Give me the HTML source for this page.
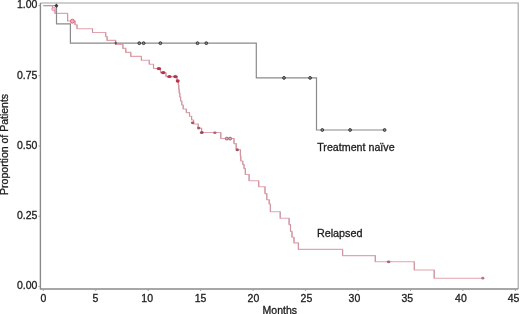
<!DOCTYPE html>
<html><head><meta charset="utf-8"><title>Kaplan-Meier</title>
<style>
html,body{margin:0;padding:0;background:#fff;}
body{width:520px;height:314px;overflow:hidden;}
svg{display:block;}
text{font-family:"Liberation Sans",Arial,sans-serif;font-size:10.5px;fill:#1c1c1c;stroke:#1c1c1c;stroke-width:0.3px;}
</style></head><body>
<svg width="520" height="314" viewBox="0 0 520 314">
<path d="M40.4,3.0H518.2V289.0" fill="none" stroke="#a0a0a0" stroke-width="1.1"/>
<path d="M40.4,3.0V289.0H518.2" fill="none" stroke="#8a8a8a" stroke-width="1.4"/>
<path d="M38.4,5.6H40.4M38.4,75.8H40.4M38.4,146.0H40.4M38.4,216.2H40.4M38.4,286.4H40.4M43.3,289.0V291.0M95.8,289.0V291.0M148.2,289.0V291.0M200.6,289.0V291.0M253.1,289.0V291.0M305.6,289.0V291.0M358.0,289.0V291.0M410.5,289.0V291.0M462.9,289.0V291.0M515.4,289.0V291.0" stroke="#a0a0a0" stroke-width="1" fill="none"/>
<text x="37.4" y="8.4" text-anchor="end">1.00</text>
<text x="37.4" y="78.6" text-anchor="end">0.75</text>
<text x="37.4" y="148.8" text-anchor="end">0.50</text>
<text x="37.4" y="219.0" text-anchor="end">0.25</text>
<text x="37.4" y="289.2" text-anchor="end">0.00</text>
<text x="43.3" y="301.5" text-anchor="middle">0</text>
<text x="95.5" y="301.5" text-anchor="middle">5</text>
<text x="147.2" y="301.5" text-anchor="middle">10</text>
<text x="200.6" y="301.5" text-anchor="middle">15</text>
<text x="253.4" y="301.5" text-anchor="middle">20</text>
<text x="306.4" y="301.5" text-anchor="middle">25</text>
<text x="354.4" y="301.5" text-anchor="middle">30</text>
<text x="407.3" y="301.5" text-anchor="middle">35</text>
<text x="460.9" y="301.5" text-anchor="middle">40</text>
<text x="513.6" y="301.5" text-anchor="middle">45</text>
<text x="279.8" y="313.7" text-anchor="middle">Months</text>
<text transform="translate(8.2,144.4) rotate(-90)" text-anchor="middle">Proportion of Patients</text>
<path d="M43.3,5.6H52.5V9.7H55.0V13.4H67.6V21.0H75.0V24.8H77.0V28.8H92.5V32.5H105.7V36.5H107.1V40.4H115.7V44.4H122.9V48.4H125.8V52.4H130.8V56.4H141.4V60.3H149.3V64.3H153.5V68.5H160.5V72.7H166.0V76.6H177.0V81.0H178.4V85.0H178.8V89.0H179.2V93.0H179.8V97.0H180.6V101.0H181.8V105.0H183.2V109.0H186.3V112.6H189.5V116.3H191.6V120.0H193.6V124.0H198.2V128.2H201.6V132.5H220.8V138.5H234.0V143.6H236.2V149.8H240.4V156.0H240.8V161.0H242.8V164.5H244.0V168.5H245.3V174.5H249.1V180.8H258.7V186.8H265.0V193.6H266.8V199.8H269.2V204.0H270.4V211.8H280.2V218.3H289.1V224.6H290.5V231.4H292.0V237.2H294.0V242.9H298.4V249.4H342.6V255.6H375.3V261.8H414.3V270.0H434.2V278.2H482.8" stroke="#e2a4ae" stroke-width="1.1" fill="none"/>
<path d="M52.5,5.6V9.7M55.0,9.7V13.4M67.6,13.4V21.0M75.0,21.0V24.8M77.0,24.8V28.8M92.5,28.8V32.5M105.7,32.5V36.5M107.1,36.5V40.4M115.7,40.4V44.4M122.9,44.4V48.4M125.8,48.4V52.4M130.8,52.4V56.4M141.4,56.4V60.3M149.3,60.3V64.3M153.5,64.3V68.5M160.5,68.5V72.7M166.0,72.7V76.6M177.0,76.6V81.0M178.4,81.0V85.0M178.8,85.0V89.0M179.2,89.0V93.0M179.8,93.0V97.0M180.6,97.0V101.0M181.8,101.0V105.0M183.2,105.0V109.0M186.3,109.0V112.6M189.5,112.6V116.3M191.6,116.3V120.0M193.6,120.0V124.0M198.2,124.0V128.2M201.6,128.2V132.5M220.8,132.5V138.5M234.0,138.5V143.6M236.2,143.6V149.8M240.4,149.8V156.0M240.8,156.0V161.0M242.8,161.0V164.5M244.0,164.5V168.5M245.3,168.5V174.5M249.1,174.5V180.8M258.7,180.8V186.8M265.0,186.8V193.6M266.8,193.6V199.8M269.2,199.8V204.0M270.4,204.0V211.8M280.2,211.8V218.3M289.1,218.3V224.6M290.5,224.6V231.4M292.0,231.4V237.2M294.0,237.2V242.9M298.4,242.9V249.4M342.6,249.4V255.6M375.3,255.6V261.8M414.3,261.8V270.0M434.2,270.0V278.2" stroke="#cc96a0" stroke-width="1.1" fill="none"/>
<path d="M43.3,5.6H56.5" stroke="#a9a0a3" stroke-width="1.1" fill="none"/>
<path d="M56.5,5.6L56.5,23.9L70.4,23.9L70.4,43.2L256.3,43.2L256.3,77.9L316.5,77.9L316.5,130.0L384.6,130.0" stroke="#8a8a8a" stroke-width="1.2" fill="none"/>
<ellipse cx="53.6" cy="9.0" rx="1.8" ry="1.8" fill="#f2c4cc" stroke="#e592a2" stroke-width="0.9"/>
<ellipse cx="72.4" cy="21.2" rx="2.0" ry="2.0" fill="#f2b0bc" stroke="#de5a72" stroke-width="0.9"/>
<ellipse cx="158.9" cy="68.6" rx="2.3" ry="1.6" fill="#b8324c"/>
<ellipse cx="163.2" cy="72.6" rx="2.3" ry="1.6" fill="#b8324c"/>
<ellipse cx="169.4" cy="76.5" rx="2.3" ry="1.6" fill="#b8324c"/>
<ellipse cx="175.4" cy="76.6" rx="2.3" ry="1.6" fill="#b8324c"/>
<ellipse cx="177.7" cy="81.0" rx="2.0" ry="1.8" fill="#b8324c"/>
<ellipse cx="192.6" cy="122.8" rx="1.7" ry="1.4" fill="#a45868"/>
<ellipse cx="198.7" cy="128.1" rx="1.7" ry="1.4" fill="#a45868"/>
<ellipse cx="201.8" cy="132.6" rx="1.9" ry="1.5" fill="#984a5c"/>
<ellipse cx="214.9" cy="132.7" rx="1.7" ry="1.3" fill="#a86474"/>
<ellipse cx="226.8" cy="138.6" rx="1.6" ry="1.4" fill="#d8a8b2" stroke="#a05a6a" stroke-width="0.9"/>
<ellipse cx="230.1" cy="138.6" rx="1.6" ry="1.4" fill="#d8a8b2" stroke="#a05a6a" stroke-width="0.9"/>
<ellipse cx="237.3" cy="149.8" rx="1.7" ry="1.5" fill="#a45868"/>
<ellipse cx="388.6" cy="261.8" rx="1.9" ry="1.4" fill="#a86a78"/>
<ellipse cx="482.8" cy="278.2" rx="1.6" ry="1.4" fill="#b07884"/>
<path d="M54.4,5.8L56.4,3.6L58.4,5.8L56.4,8.0Z" fill="#3a3a3a"/>
<circle cx="139.3" cy="43.2" r="1.4" fill="#888" stroke="#383838" stroke-width="1"/>
<circle cx="143.6" cy="43.2" r="1.4" fill="#888" stroke="#383838" stroke-width="1"/>
<circle cx="160.4" cy="43.2" r="1.4" fill="#888" stroke="#383838" stroke-width="1"/>
<circle cx="197.5" cy="43.2" r="1.4" fill="#888" stroke="#383838" stroke-width="1"/>
<circle cx="206.3" cy="43.2" r="1.4" fill="#888" stroke="#383838" stroke-width="1"/>
<circle cx="284.0" cy="77.9" r="1.4" fill="#888" stroke="#383838" stroke-width="1"/>
<circle cx="310.1" cy="77.9" r="1.4" fill="#888" stroke="#383838" stroke-width="1"/>
<circle cx="322.3" cy="130.0" r="1.4" fill="#888" stroke="#383838" stroke-width="1"/>
<circle cx="350.1" cy="130.0" r="1.4" fill="#888" stroke="#383838" stroke-width="1"/>
<circle cx="384.6" cy="130.0" r="1.4" fill="#888" stroke="#383838" stroke-width="1"/>
<ellipse cx="115.7" cy="43.0" rx="1.1" ry="1.5" fill="#555"/>
<text x="317.2" y="150.7" style="font-size:10.7px">Treatment naïve</text>
<text x="316.9" y="236.6" style="font-size:10.8px">Relapsed</text>
</svg>
</body></html>
